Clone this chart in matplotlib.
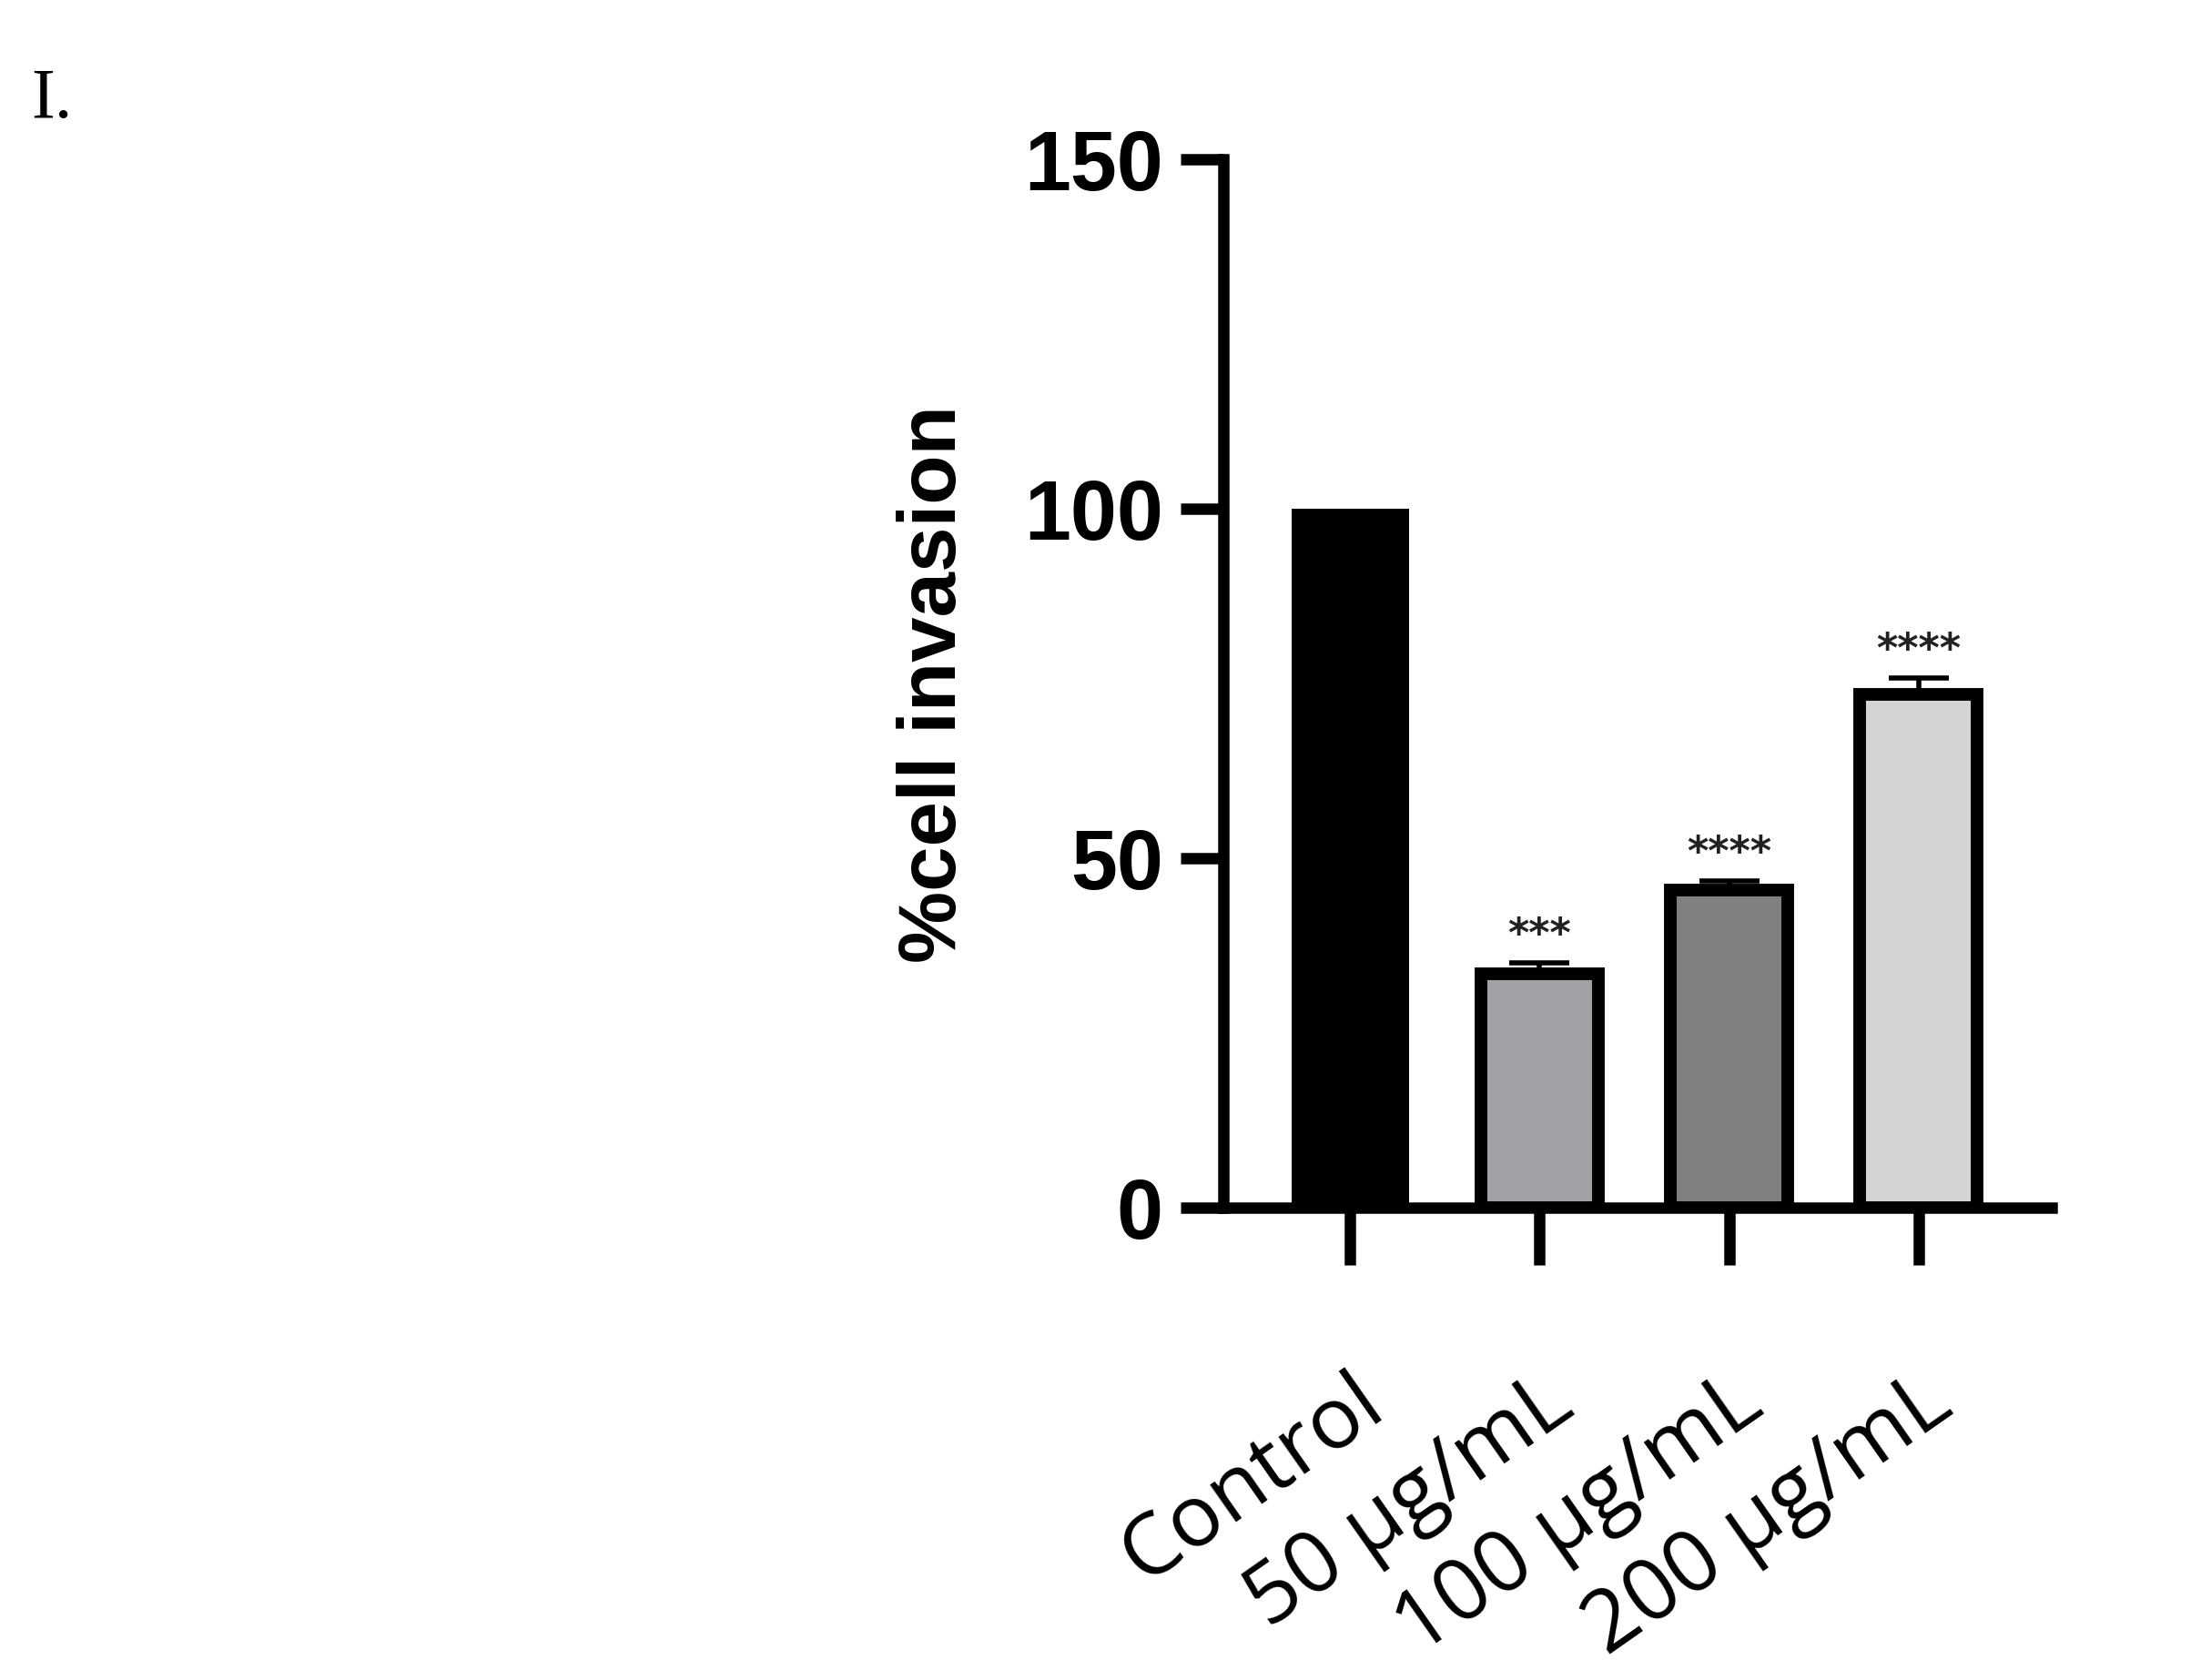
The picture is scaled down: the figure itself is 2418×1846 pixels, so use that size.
import numpy as np
import matplotlib.pyplot as plt

groups = ["Control", "50 µg/mL", "100 µg/mL", "200 µg/mL"]
means = [100, 33.5, 45.5, 73.5]
errs = [0, 1.5, 1.3, 2.3]
stars = ["", "***", "****", "****"]
colors = ["black", "#a2a2a6", "#808080", "#d4d4d4"]

fig = plt.figure(figsize=(24.18, 18.46), dpi=100)
ax = fig.add_axes([0.556, 0.281, 0.376, 0.624])

x = np.arange(len(groups))
for i in x:
    ax.bar(i, means[i], width=0.62, color=colors[i], edgecolor="black",
           linewidth=0 if i == 0 else 10, zorder=2)
    if errs[i]:
        ax.errorbar(i, means[i], yerr=[[0], [errs[i]]], fmt="none",
                    ecolor="black", elinewidth=4, capsize=24, capthick=4, zorder=3)
        ax.text(i, means[i] + errs[i] + 1.2, stars[i], ha="center", va="bottom",
                fontsize=32, fontweight="bold", color="#222222")

ax.set_xlim(-0.667, 3.7)
ax.set_ylim(0, 150)
ax.set_yticks([0, 50, 100, 150])
ax.set_xticks(x)
ax.set_xticklabels(groups, rotation=35, ha="right", rotation_mode="anchor",
                   fontsize=68, family="Open Sans")
for lab in ax.get_yticklabels():
    lab.set_fontweight("bold")
    lab.set_family("Liberation Sans")
ax.tick_params(axis="y", labelsize=66, width=9, length=34, pad=14)
ax.tick_params(axis="x", width=9, length=45, pad=75)
ax.set_ylabel("%cell invasion", fontsize=64, fontweight="bold",
              family="Liberation Sans", labelpad=40)
for s in ["top", "right"]:
    ax.spines[s].set_visible(False)
for s in ["left", "bottom"]:
    ax.spines[s].set_linewidth(9)

fig.text(0.014, 0.93, "I.", fontsize=56, family="Liberation Serif")
fig.savefig("out.png", dpi=100)
